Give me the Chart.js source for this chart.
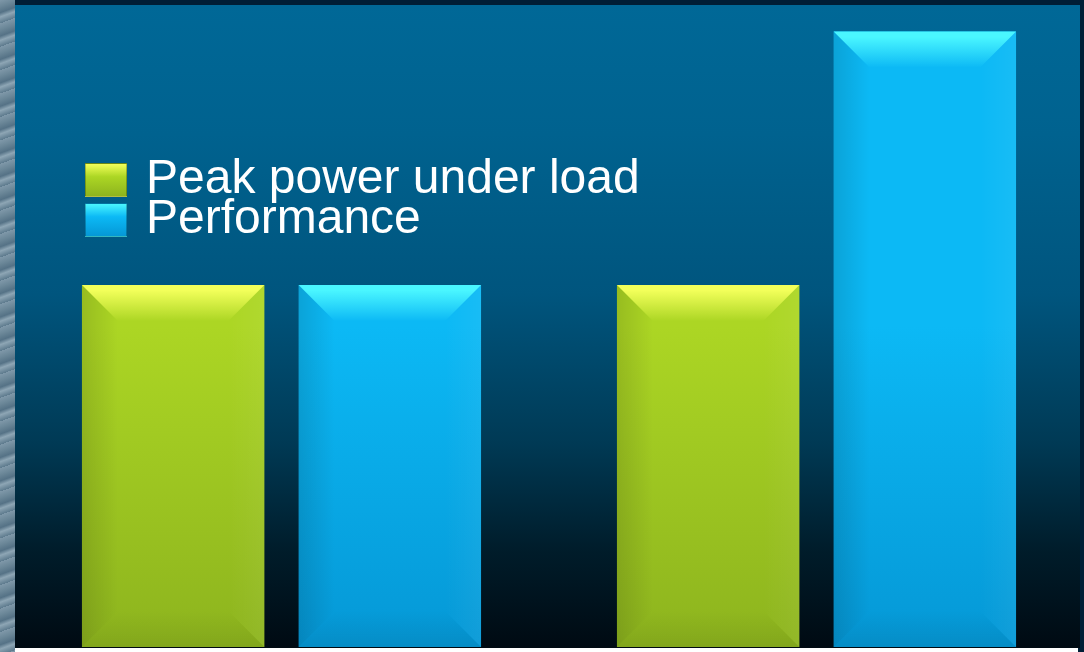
<!DOCTYPE html>
<html lang="en">
<head>
    <meta charset="UTF-8">
    <title>Peak power vs performance</title>
    <script src="https://cdn.jsdelivr.net/npm/chart.js"></script>
    <style>
        html, body { margin: 0; padding: 0; }
        body { width: 1084px; height: 652px; position: relative; overflow: hidden; background: #001e36; font-family: "Liberation Sans", Arial, sans-serif; }
        /* strip of the photo behind the slide on the left */
        #side { position: absolute; left: 0; top: 0; width: 15px; height: 652px;
            background: repeating-linear-gradient(160deg, #7f98a9 0px, #6b8798 6px, #557286 12px, #8ea6b5 16px, #5d7a8d 22px),
                        #6f8a9b; }
        #panel { position: absolute; left: 15px; top: 5px; width: 1065px; height: 643px;
            background: linear-gradient(to bottom, #006897 0%, #00628f 20%, #00557e 45%, #003a55 68%, #001c2a 85%, #000a12 100%); }
        #bottomStrip { position: absolute; left: 15px; top: 648px; width: 1063px; height: 4px; background: #ffffff; }
        #wrap { position: absolute; left: 14px; top: 5px; width: 1070px; height: 642px; }
        #legend { position: absolute; left: 85px; top: 157px; color: #ffffff; font-size: 48px; line-height: 40px; }
        .row { position: relative; height: 40px; white-space: nowrap; }
        .box { position: absolute; left: 0; top: 6px; width: 42px; height: 34px; box-sizing: border-box; }
        .txt { position: absolute; left: 61px; top: 0; }
    </style>
</head>
<body>
    <div id="side"></div>
    <div id="panel"></div>
    <div id="bottomStrip"></div>
    <div id="wrap"><canvas id="barChart"></canvas></div>
    <div id="legend"></div>

    <script>
        // dati
        const categories = ['Before', 'After'];
        const seriesNames = ['Peak power under load', 'Performance'];
        const peakPower = [1.0, 1.0];
        const performance = [1.0, 1.7];

        // colori: [chiaro in alto, base, scuro in basso]
        const greenShades = ['#f2ff5a', '#acd624', '#8db41e'];
        const blueShades = ['#4af6ff', '#0cb9f5', '#0598d6'];

        function barFill(shades) {
            return function (ctx) {
                const area = ctx.chart.chartArea;
                if (!area) return shades[1];
                const g = ctx.chart.ctx.createLinearGradient(0, area.top, 0, area.bottom);
                g.addColorStop(0, shades[1]);
                g.addColorStop(0.5, shades[1]);
                g.addColorStop(1, shades[2]);
                return g;
            };
        }

        // effetto smussato sulle barre
        const bevelPlugin = {
            id: 'bevel',
            afterDatasetsDraw(chart) {
                const c = chart.ctx;
                chart.data.datasets.forEach((ds, i) => {
                    const shades = ds.shades;
                    chart.getDatasetMeta(i).data.forEach(el => {
                        const p = el.getProps(['x', 'y', 'base', 'width'], true);
                        const L = p.x - p.width / 2, R = p.x + p.width / 2, T = p.y, B = p.base;
                        const b = 36;
                        c.save();
                        // top
                        let g = c.createLinearGradient(0, T, 0, T + b);
                        g.addColorStop(0, shades[0]);
                        g.addColorStop(0.15, shades[0]);
                        g.addColorStop(1, shades[1]);
                        c.fillStyle = g;
                        c.beginPath();
                        c.moveTo(L, T); c.lineTo(R, T); c.lineTo(R - b, T + b); c.lineTo(L + b, T + b);
                        c.closePath(); c.fill();
                        // left
                        g = c.createLinearGradient(L, 0, L + b, 0);
                        g.addColorStop(0, 'rgba(0,0,0,0.12)');
                        g.addColorStop(1, 'rgba(0,0,0,0)');
                        c.fillStyle = g;
                        c.beginPath();
                        c.moveTo(L, T); c.lineTo(L + b, T + b); c.lineTo(L + b, B - b); c.lineTo(L, B);
                        c.closePath(); c.fill();
                        // right
                        g = c.createLinearGradient(R, 0, R - b, 0);
                        g.addColorStop(0, 'rgba(255,255,255,0.05)');
                        g.addColorStop(1, 'rgba(255,255,255,0)');
                        c.fillStyle = g;
                        c.beginPath();
                        c.moveTo(R, T); c.lineTo(R - b, T + b); c.lineTo(R - b, B - b); c.lineTo(R, B);
                        c.closePath(); c.fill();
                        // bottom
                        g = c.createLinearGradient(0, B, 0, B - b);
                        g.addColorStop(0, 'rgba(0,0,0,0.08)');
                        g.addColorStop(1, 'rgba(0,0,0,0)');
                        c.fillStyle = g;
                        c.beginPath();
                        c.moveTo(L, B); c.lineTo(R, B); c.lineTo(R - b, B - b); c.lineTo(L + b, B - b);
                        c.closePath(); c.fill();
                        c.restore();
                    });
                });
            }
        };

        const ctx = document.getElementById('barChart').getContext('2d');
        const myBarChart = new Chart(ctx, {
            type: 'bar',
            data: {
                labels: categories,
                datasets: [
                    { label: seriesNames[0], data: peakPower, shades: greenShades, backgroundColor: barFill(greenShades), borderWidth: 0 },
                    { label: seriesNames[1], data: performance, shades: blueShades, backgroundColor: barFill(blueShades), borderWidth: 0 }
                ]
            },
            options: {
                responsive: true,
                maintainAspectRatio: false,
                animation: false,
                layout: { padding: 0 },
                categoryPercentage: 0.81,
                barPercentage: 0.842,
                plugins: {
                    legend: { display: false },
                    tooltip: { enabled: false }
                },
                scales: {
                    x: { display: false, grid: { display: false } },
                    y: { display: false, min: 0, max: 1.7735, grid: { display: false } }
                }
            },
            plugins: [bevelPlugin]
        });

        // legenda in HTML
        const legend = document.getElementById('legend');
        [greenShades, blueShades].forEach((shades, i) => {
            const row = document.createElement('div');
            row.className = 'row';
            const box = document.createElement('div');
            box.className = 'box';
            box.style.background =
                'linear-gradient(to bottom, ' + shades[0] + ' 0%, ' + shades[1] + ' 40%, ' + shades[2] + ' 100%)';
            box.style.border = '1px solid rgba(0,0,0,0.25)';
            const txt = document.createElement('span');
            txt.className = 'txt';
            txt.textContent = seriesNames[i];
            row.appendChild(box);
            row.appendChild(txt);
            legend.appendChild(row);
        });
    </script>
</body>
</html>
